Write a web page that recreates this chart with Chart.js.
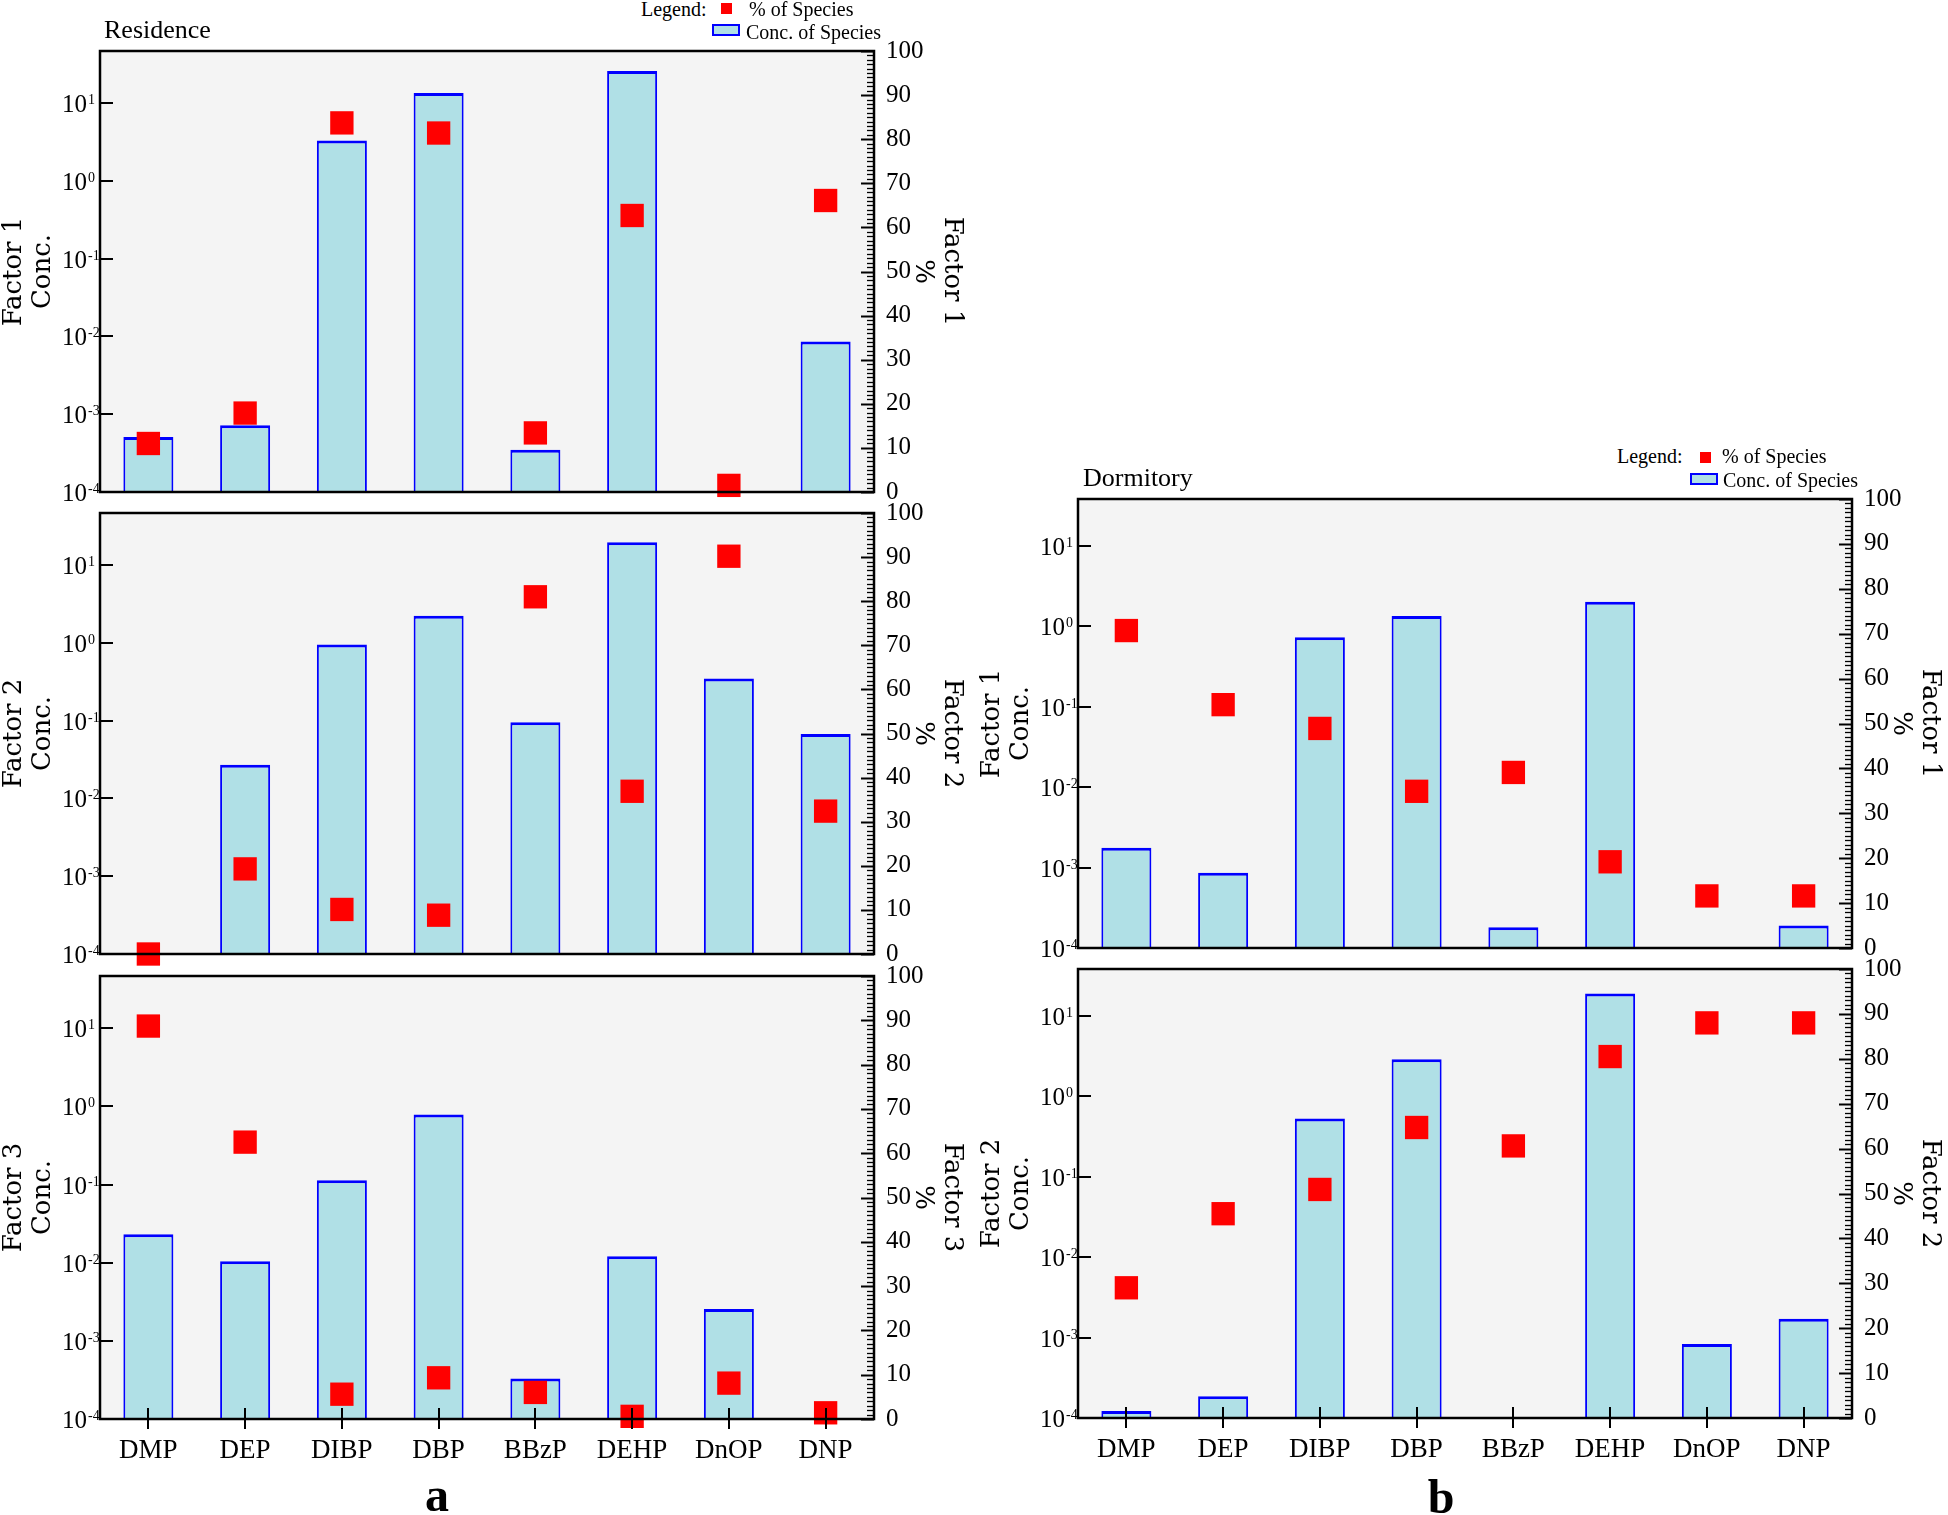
<!DOCTYPE html>
<html>
<head>
<meta charset="utf-8">
<script src="https://cdn.jsdelivr.net/npm/chart.js@4.4.1/dist/chart.umd.min.js"></script>
<style>
html,body{margin:0;padding:0;background:#fff;width:1948px;height:1515px;overflow:hidden;}
canvas{position:absolute;}
.t{position:absolute;font-family:'Liberation Serif','Times New Roman',serif;color:#000;white-space:nowrap;line-height:1;}
.sw{position:absolute;box-sizing:border-box;}
</style>
</head>
<body>
<script>
// ---------------- DATA ----------------
const categories = ['DMP','DEP','DIBP','DBP','BBzP','DEHP','DnOP','DNP'];
const logTickValues = [1e-4, 1e-3, 1e-2, 1e-1, 1e0, 1e1];
const logTickBase = '10';
const logTickExponents = ['-4', '-3', '-2', '-1', '0', '1'];
const pctTickStep = 10;

// Residence (a)
const residenceF1Conc = [5.1e-4, 7.2e-4, 3.3, 13.4, 3.5e-4, 25.7, null, 8.6e-3];
const residenceF1Pct  = [11.0, 17.9, 83.7, 81.4, 13.4, 62.7, 1.5, 66.1];
const residenceF2Conc = [null, 0.0271, 0.953, 2.23, 0.0953, 19.6, 0.348, 0.0673];
const residenceF2Pct  = [0, 19.3, 10.1, 8.8, 81.0, 36.9, 90.2, 32.4];
const residenceF3Conc = [0.0231, 0.0104, 0.113, 0.785, 3.3e-4, 0.0121, 2.56e-3, null];
const residenceF3Pct  = [88.7, 62.5, 5.6, 9.3, 6.0, 0.6, 8.1, 1.4];

// Dormitory (b)
const dormitoryF1Conc = [1.77e-3, 8.6e-4, 0.731, 1.35, 1.81e-4, 2.02, null, 1.9e-4];
const dormitoryF1Pct  = [70.7, 54.2, 48.9, 34.9, 39.1, 19.2, 11.6, 11.6];
const dormitoryF2Conc = [1.22e-4, 1.86e-4, 0.532, 2.9, null, 19.0, 8.3e-4, 1.71e-3];
const dormitoryF2Pct  = [29.0, 45.5, 50.9, 64.7, 60.6, 80.5, 88.0, 88.0];

// ---------------- LAYOUT ----------------
const panels = [
  {conc: residenceF1Conc, pct: residenceF1Pct, factor: 'Factor 1', L:100,  R:874,  T:51,  B:492,  logMax:46.5, labels:false},
  {conc: residenceF2Conc, pct: residenceF2Pct, factor: 'Factor 2', L:100,  R:874,  T:513, B:954,  logMax:46.5, labels:false},
  {conc: residenceF3Conc, pct: residenceF3Pct, factor: 'Factor 3', L:100,  R:874,  T:976, B:1419, logMax:46.5, labels:true},
  {conc: dormitoryF1Conc, pct: dormitoryF1Pct, factor: 'Factor 1', L:1078, R:1852, T:499, B:948,  logMax:38.4, labels:false},
  {conc: dormitoryF2Conc, pct: dormitoryF2Pct, factor: 'Factor 2', L:1078, R:1852, T:969, B:1418, logMax:38.4, labels:true}
];

const SERIF = "'Liberation Serif', 'Times New Roman', serif";
const TITLE_FONT = {family: "'DejaVu Serif', serif", size: 26, lineHeight: 1.1};

const framePlugin = {
  id: 'frame',
  beforeDraw(chart) {
    const {ctx, chartArea: a} = chart;
    ctx.save();
    ctx.fillStyle = '#f4f4f4';
    ctx.fillRect(a.left, a.top, a.right - a.left, a.bottom - a.top);
    ctx.restore();
  },
  afterDraw(chart, args, opts) {
    const {ctx, chartArea: a, scales} = chart;
    ctx.save();
    ctx.strokeStyle = '#000';
    // right axis minor / major ticks (inward)
    for (let v = 0; v <= 100; v++) {
      const y = Math.round(scales.y2.getPixelForValue(v)) + 0.5;
      const len = v % 10 === 0 ? 13 : 7;
      ctx.lineWidth = v % 10 === 0 ? 2 : 1.3;
      ctx.beginPath(); ctx.moveTo(a.right - len, y); ctx.lineTo(a.right, y); ctx.stroke();
    }
    // left decade ticks (inward) and their labels (base + superscript exponent)
    ctx.lineWidth = 2;
    ctx.fillStyle = '#000';
    ctx.textAlign = 'left';
    ctx.textBaseline = 'alphabetic';
    scales.y.ticks.forEach((t, i) => {
      const y = Math.round(scales.y.getPixelForValue(t.value));
      ctx.beginPath(); ctx.moveTo(a.left, y); ctx.lineTo(a.left + 13, y); ctx.stroke();
      ctx.font = '25px ' + SERIF;
      ctx.fillText(logTickBase, a.left - 38, y + 9);
      ctx.font = '14px ' + SERIF;
      ctx.fillText(logTickExponents[i], a.left - 12, y + 1);
    });
    // category ticks crossing the bottom axis
    if (opts.catTicks) {
      ctx.lineWidth = 2;
      categories.forEach((c, i) => {
        const x = Math.round(scales.x.getPixelForValue(i));
        ctx.beginPath(); ctx.moveTo(x, a.bottom - 11); ctx.lineTo(x, a.bottom + 10); ctx.stroke();
      });
    }
    // frame
    ctx.lineWidth = 2.5;
    ctx.strokeRect(a.left, a.top, a.right - a.left, a.bottom - a.top);
    ctx.restore();
  }
};

function makeChart(p) {
  const padTop = 30, leftW = 100, rightW = 92, xH = p.labels ? 60 : 30;
  const w = leftW + (p.R - p.L) + rightW;
  const h = padTop + (p.B - p.T) + xH;
  const cv = document.createElement('canvas');
  cv.width = w; cv.height = h;
  cv.style.left = (p.L - leftW) + 'px';
  cv.style.top = (p.T - padTop) + 'px';
  cv.style.width = w + 'px'; cv.style.height = h + 'px';
  document.body.appendChild(cv);
  new Chart(cv, {
    type: 'bar',
    data: {
      labels: categories,
      datasets: [
        {
          type: 'bar', label: 'Conc. of Species', data: p.conc, yAxisID: 'y',
          backgroundColor: '#b0e0e6', borderColor: '#0000ff',
          borderWidth: {top: 3, left: 2, right: 2, bottom: 0}, borderSkipped: 'start',
          barPercentage: 0.517, categoryPercentage: 1, order: 2
        },
        {
          type: 'line', label: '% of Species', data: p.pct, yAxisID: 'y2',
          showLine: false, pointStyle: 'rect', pointRadius: 16.5,
          pointBackgroundColor: '#ff0000', pointBorderColor: '#ff0000', pointBorderWidth: 0,
          clip: false, order: 1
        }
      ]
    },
    options: {
      responsive: false, animation: false, devicePixelRatio: 1, events: [],
      layout: {padding: {top: padTop, left: 0, right: 0, bottom: 0}},
      plugins: {legend: {display: false}, tooltip: {enabled: false}, frame: {catTicks: p.labels}},
      scales: {
        x: {
          type: 'category', offset: true,
          grid: {display: false}, border: {display: false},
          ticks: {display: p.labels, color: '#000', font: {family: SERIF, size: 27, lineHeight: 1.2},
                  padding: 8, maxRotation: 0, autoSkip: false},
          afterFit(s) { s.height = xH; }
        },
        y: {
          type: 'logarithmic', position: 'left', min: 1e-4, max: p.logMax,
          grid: {display: false, drawTicks: false}, border: {display: false},
          afterBuildTicks(s) { s.ticks = logTickValues.map(v => ({value: v, major: true})); },
          ticks: {
            display: false,
            callback(v) {
              const i = logTickValues.findIndex(t => Math.abs(Math.log10(t) - Math.log10(v)) < 1e-6);
              return i >= 0 ? logTickBase + '^' + logTickExponents[i] : '';
            }
          },
          title: {display: true, text: [p.factor, 'Conc.'], color: '#000', font: TITLE_FONT, padding: 0},
          afterFit(s) { s.width = leftW; }
        },
        y2: {
          type: 'linear', position: 'right', min: 0, max: 100,
          grid: {display: false, drawTicks: false}, border: {display: false},
          ticks: {stepSize: pctTickStep, color: '#000', font: {family: SERIF, size: 25}, padding: 12},
          title: {display: true, text: [p.factor, '%'], color: '#000', font: TITLE_FONT, padding: 0},
          afterFit(s) { s.width = rightW; }
        }
      }
    },
    plugins: [framePlugin]
  });
}

panels.forEach(makeChart);

// ---------------- TEXT / LEGENDS ----------------
function addText(txt, x, baseline, size, opt) {
  opt = opt || {};
  const d = document.createElement('div');
  d.className = 't';
  d.textContent = txt;
  d.style.fontSize = size + 'px';
  d.style.top = (baseline - 0.8375 * size) + 'px';
  d.style.left = x + 'px';
  if (opt.center) d.style.transform = 'translateX(-50%)';
  if (opt.bold) d.style.fontWeight = 'bold';
  document.body.appendChild(d);
}
function addBox(x, y, w, h, bg, border) {
  const d = document.createElement('div');
  d.className = 'sw';
  d.style.left = x + 'px'; d.style.top = y + 'px';
  d.style.width = w + 'px'; d.style.height = h + 'px';
  d.style.background = bg;
  if (border) d.style.border = border;
  document.body.appendChild(d);
}

// panel a
addText('Residence', 104, 39, 26);
addText('Legend:', 641, 16, 20);
addBox(721, 3, 11, 11, '#ff0000');
addText('% of Species', 749, 16, 20);
addBox(712, 24, 28, 12, '#b0e0e6', '2px solid #0000ff');
addText('Conc. of Species', 746, 39, 20);
addText('a', 437, 1511, 48, {center: true, bold: true});

// panel b
addText('Dormitory', 1083, 487, 26);
addText('Legend:', 1617, 463, 20);
addBox(1700, 452, 11, 11, '#ff0000');
addText('% of Species', 1722, 463, 20);
addBox(1690, 473, 28, 12, '#b0e0e6', '2px solid #0000ff');
addText('Conc. of Species', 1723, 487, 20);
addText('b', 1441, 1513, 48, {center: true, bold: true});
</script>
</body>
</html>
